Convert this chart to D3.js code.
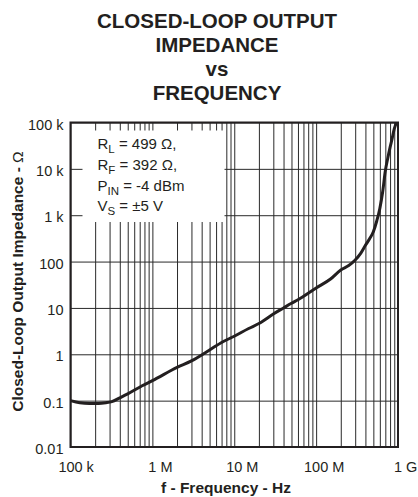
<!DOCTYPE html>
<html>
<head>
<meta charset="utf-8">
<script src="https://cdn.jsdelivr.net/npm/d3@7"></script>
<style>
    body { margin: 0; background: #fff; }
    text { font-family: "Liberation Sans", Arial, sans-serif; fill: #231f20; }
</style>
</head>
<body>
<div id="chartDiv"></div>
<script>
// curve
var freqHz = [1e5, 1.3e5, 1.7e5, 2.2e5, 2.7e5, 3.2e5, 4e5, 5e5, 7.5e5, 1e6, 2e6, 3e6, 5e6, 7e6,
    1e7, 1.5e7, 2e7, 3e7, 4e7, 5e7, 6e7, 1e8, 1.5e8, 2e8, 2.5e8, 3e8, 3.5e8, 4e8, 4.5e8,
    5e8, 5.5e8, 6e8, 6.5e8, 7e8, 7.5e8, 8e8, 8.5e8, 9e8, 9.6e8];
var impedanceOhm = [0.1, 0.09, 0.087, 0.087, 0.09, 0.095, 0.115, 0.14, 0.21, 0.27, 0.52, 0.72, 1.24, 1.8,
    2.45, 3.6, 4.6, 7.4, 10, 12.6, 15, 27, 42, 66, 82, 108, 150, 224, 310,
    440, 750, 1400, 3200, 9000, 17000, 29000, 46000, 73000, 100000];

var titleLines = ["CLOSED-LOOP OUTPUT", "IMPEDANCE", "vs", "FREQUENCY"];
var xTickValues = [1e5, 1e6, 1e7, 1e8, 1e9];
var xTickNums = ["100", "1", "10", "100", "1"];
var xTickUnits = [" k", " M", " M", " M", " G"];
var yTickValues = [0.01, 0.1, 1, 10, 100, 1e3, 1e4, 1e5];
var yTickLabels = ["0.01", "0.1", "1", "10", "100", "1 k", "10 k", "100 k"];
var xTitle = "f - Frequency - Hz";
var yTitle = "Closed-Loop Output Impedance - ";
var yTitleUnit = " Ω";
var legendMain = ["R", "R", "P", "V"];
var legendSub = ["L", "F", "IN", "S"];
var legendRest = [" = 499 Ω,", " = 392 Ω,", " = -4 dBm", " = ±5 V"];

var margin = {top: 122.5, right: 20, bottom: 50, left: 70.5},
    width = 327.5,
    height = 324.5;

var x, y, svg, g;

gen_scales();
gen_chart();
draw_grid();
draw_legend();
draw_curve();
draw_labels();

function gen_scales() {
    x = d3.scaleLog().domain([1e5, 1e9]).range([0, width]);
    y = d3.scaleLog().domain([0.01, 1e5]).range([height, 0]);
}

function gen_chart() {
    svg = d3.select('#chartDiv').append('svg')
        .attr('width', 418)
        .attr('height', 497);
    svg.append('rect').attr('width', 418).attr('height', 497).style('fill', '#fff');

    svg.selectAll('.title')
        .data(titleLines)
        .enter().append('text')
        .attr('class', 'title')
        .attr('x', 217)
        .attr('y', function(d, i) { return 27.5 + i * 24.1; })
        .attr('text-anchor', 'middle')
        .style('font-size', '20.5px')
        .style('font-weight', 'bold')
        .text(function(d) { return d; });

    g = svg.append('g')
        .attr('transform', 'translate(' + margin.left + ',' + margin.top + ')');
}

function draw_grid() {
    var vGrid = g.append('g')
        .attr('class', 'vgrid')
        .call(d3.axisBottom(x).tickValues(x.ticks()).tickSize(height).tickFormat(''));
    var hGrid = g.append('g')
        .attr('class', 'hgrid')
        .call(d3.axisRight(y).tickValues(yTickValues).tickSize(width).tickFormat(''));
    g.selectAll('.vgrid .domain, .hgrid .domain').remove();
    g.selectAll('.vgrid line, .hgrid line')
        .style('stroke', '#2a2a2a')
        .style('stroke-width', 1);
}

function draw_legend() {
    // white patch behind the conditions text
    g.append('rect')
        .attr('x', 12)
        .attr('y', 8)
        .attr('width', 142)
        .attr('height', 91.5)
        .style('fill', '#fff');

    var lines = g.selectAll('.legend')
        .data(legendMain)
        .enter().append('text')
        .attr('class', 'legend')
        .attr('x', 27)
        .attr('y', function(d, i) { return 26.5 + i * 20.8; })
        .style('font-size', '15px');
    lines.append('tspan').text(function(d) { return d; });
    lines.append('tspan')
        .attr('dy', 4)
        .style('font-size', '11.5px')
        .text(function(d, i) { return legendSub[i]; });
    lines.append('tspan')
        .attr('dy', -4)
        .text(function(d, i) { return legendRest[i]; });
}

function draw_curve() {
    var valueline = d3.line()
        .x(function(d) { return x(d[0]); })
        .y(function(d) { return y(d[1]); })
        .curve(d3.curveMonotoneX);
    var pts = freqHz.map(function(f, i) { return [f, impedanceOhm[i]]; });

    g.append('path')
        .datum(pts)
        .attr('fill', 'none')
        .attr('stroke', '#231f20')
        .attr('stroke-width', 3)
        .attr('stroke-linejoin', 'round')
        .attr('d', valueline);

    g.append('rect')
        .attr('width', width)
        .attr('height', height)
        .style('fill', 'none')
        .style('stroke', '#231f20')
        .style('stroke-width', 2);
}

function draw_labels() {
    // y tick labels
    g.selectAll('.ylab')
        .data(yTickValues)
        .enter().append('text')
        .attr('class', 'ylab')
        .attr('x', -7)
        .attr('y', function(d) { return y(d) + 7; })
        .attr('text-anchor', 'end')
        .style('font-size', '14.5px')
        .text(function(d, i) { return yTickLabels[i]; });

    // x tick labels: the number sits centred on its grid line
    var xl = g.selectAll('.xlab')
        .data(xTickValues)
        .enter().append('text')
        .attr('class', 'xlab')
        .attr('y', height + 25)
        .style('font-size', '14.5px');
    xl.append('tspan').attr('class', 'num').text(function(d, i) { return xTickNums[i]; });
    xl.append('tspan').text(function(d, i) { return xTickUnits[i]; });
    xl.attr('x', function(d) {
        var w = d3.select(this).select('.num').node().getComputedTextLength();
        return x(d) - w / 2;
    });

    svg.append('text')
        .attr('x', 226)
        .attr('y', 493)
        .attr('text-anchor', 'middle')
        .style('font-size', '15.5px')
        .style('font-weight', 'bold')
        .text(xTitle);

    var yt = svg.append('text')
        .attr('transform', 'translate(23,' + 281.5 + ') rotate(-90)')
        .attr('text-anchor', 'middle')
        .style('font-size', '15.5px')
        .style('font-weight', 'bold');
    yt.append('tspan').text(yTitle);
    yt.append('tspan').style('font-weight', 'normal').text(yTitleUnit);
}
</script>
</body>
</html>
